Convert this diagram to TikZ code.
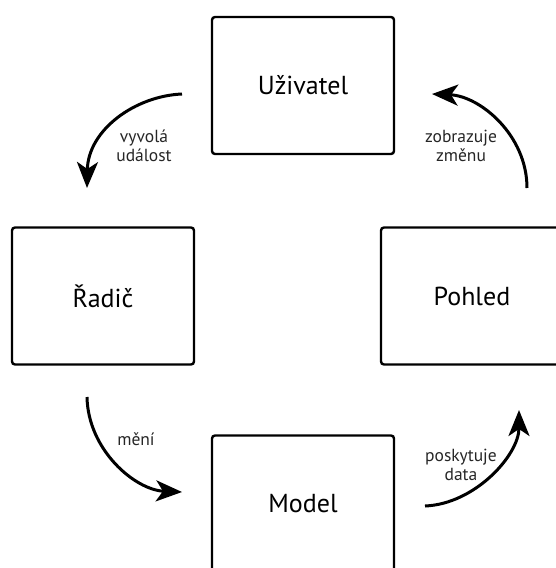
\documentclass[tikz,border=0pt]{standalone}
\usepackage{fontspec}
\setmainfont{PT Sans}
\usetikzlibrary{arrows.meta}
\begin{document}
\begin{tikzpicture}[x=1pt,y=-1pt,
  box/.style={draw, line width=2.4pt, rounded corners=3pt,
    minimum width=182pt, minimum height=137pt, inner sep=0pt,
    font=\fontsize{26}{30}\selectfont},
  flow/.style={line width=3pt, -{Stealth[length=26pt,width=21pt,inset=7pt]}},
  note/.style={align=center, inner sep=0pt, text=black!85,
    font=\fontsize{17.5}{19.5}\selectfont}]
\clip (0,0) rectangle (556,568);

% the four parts of the cycle
\node[box] (user)  at (303,85.5) {Uživatel};
\node[box] (ctrl)  at (103,296)  {Řadič};
\node[box] (view)  at (472,296)  {Pohled};
\node[box] (model) at (303,504)  {Model};

% free ends of the curved arrows
\coordinate (s1) at (182,94);  \coordinate (e1) at (87,188);
\coordinate (s2) at (87,397);  \coordinate (e2) at (182,492);
\coordinate (s3) at (425,506); \coordinate (e3) at (519,410);
\coordinate (s4) at (527,188); \coordinate (e4) at (432,94);

\draw[flow] (s1) .. controls (135,96) and (88,130) .. (e1);
\draw[flow] (s2) .. controls (88,450) and (135,490) .. (e2);
\draw[flow] (s3) .. controls (475,504) and (519,455) .. (e3);
\draw[flow] (s4) .. controls (527,135) and (480,96) .. (e4);

% arrow labels
\node[note] (l1) at (144,146) {vyvolá\\událost};
\node[note] (l2) at (136,439) {mění};
\node[note] (l3) at (461,465) {poskytuje\\data};
\node[note] (l4) at (461,146) {zobrazuje\\změnu};
\end{tikzpicture}
\end{document}
